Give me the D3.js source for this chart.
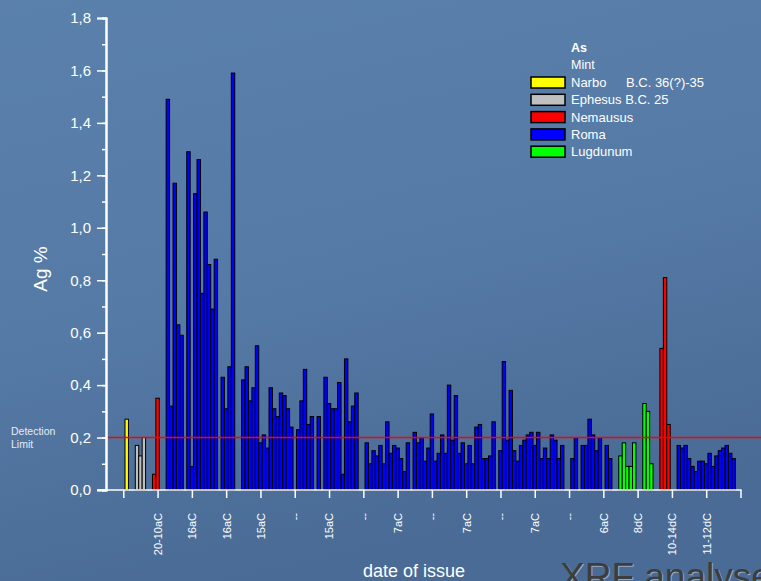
<!DOCTYPE html>
<html>
<head>
<meta charset="utf-8">
<script src="https://cdn.jsdelivr.net/npm/d3@7/dist/d3.min.js"></script>
<style>
html,body{margin:0;padding:0;background:#5278a3;}
svg{display:block;font-family:"Liberation Sans",Arial,sans-serif;}
</style>
</head>
<body>
<svg id="chart" width="761" height="581"></svg>
<script>
// ---- data ----
const xTickValues = [0,10,20,30,40,50,60,70,80,90,100,110,120,130,140,150,160,170,180];
const xTickLabels = ["","20-10aC","16aC","16aC","15aC","--","15aC","--","7aC","--","7aC","--","7aC","--","6aC","8dC","10-14dC","11-12dC",""];
const yTickValues = [0,0.2,0.4,0.6,0.8,1.0,1.2,1.4,1.6,1.8];

const narboPos = [1];
const narboVals = [0.27];
const ephesusPos = [4,5,6];
const ephesusVals = [0.17,0.13,0.20];
const nemaususPos = [9,10,157,158,159];
const nemaususVals = [0.06,0.35,0.54,0.81,0.25];
const romaPos = [13,14,15,16,17,19,20,21,22,23,24,25,26,27,29,30,31,32,
  35,36,37,38,39,40,41,42,43,44,45,46,47,48,49,51,52,53,54,55,57,
  59,60,61,62,63,64,65,66,67,68,
  71,72,73,74,75,76,77,78,79,80,81,82,83,
  85,86,87,88,89,90,91,92,93,94,95,96,97,98,99,100,101,102,103,104,105,106,107,108,
  110,111,112,113,114,115,116,117,118,119,120,121,122,123,124,125,126,127,128,
  131,132,134,135,136,137,138,139,141,142,
  162,163,164,165,166,167,168,169,170,171,172,173,174,175,176,177,178];
const romaVals = [1.49,0.32,1.17,0.63,0.59,1.29,0.09,1.13,1.26,0.75,1.06,0.86,0.69,0.88,0.43,0.31,0.47,1.59,
  0.42,0.47,0.34,0.39,0.55,0.18,0.21,0.16,0.39,0.31,0.28,0.37,0.36,0.31,0.24,0.23,0.34,0.46,0.25,0.28,0.28,
  0.43,0.33,0.31,0.31,0.41,0.06,0.50,0.26,0.32,0.37,
  0.18,0.10,0.15,0.13,0.17,0.10,0.26,0.14,0.17,0.16,0.12,0.07,0.18,
  0.22,0.18,0.20,0.11,0.16,0.29,0.11,0.14,0.21,0.14,0.40,0.19,0.36,0.14,0.18,0.10,0.17,0.10,0.24,0.25,0.12,0.12,0.13,0.26,
  0.15,0.49,0.19,0.38,0.15,0.11,0.17,0.19,0.21,0.22,0.17,0.22,0.12,0.16,0.12,0.21,0.19,0.12,0.17,
  0.12,0.20,0.17,0.17,0.27,0.21,0.15,0.20,0.17,0.12,
  0.17,0.16,0.17,0.12,0.09,0.07,0.11,0.11,0.10,0.14,0.09,0.13,0.15,0.16,0.17,0.14,0.12];
const lugdunumPos = [145,146,147,148,149,152,153,154];
const lugdunumVals = [0.13,0.18,0.09,0.09,0.18,0.33,0.30,0.10];

const seriesNames = ["Narbo","Ephesus","Nemausus","Roma","Lugdunum"];
const seriesLabels = ["Narbo","Ephesus B.C. 25","Nemausus","Roma","Lugdunum"];
const seriesColors = ["#ffff00","#c0c0c0","#ff0000","#0000ff","#00ff00"];
const detectionLimit = 0.2;

// ---- build ----
const svg = d3.select("#chart");
const W = 761, H = 581;

const defs = svg.append("defs");
const grad = defs.append("linearGradient").attr("id","bg").attr("x1",0).attr("y1",0).attr("x2",0.3).attr("y2",1);
grad.append("stop").attr("offset","0%").attr("stop-color","#5a80ac");
grad.append("stop").attr("offset","55%").attr("stop-color","#557aa5");
grad.append("stop").attr("offset","100%").attr("stop-color","#496b95");
svg.append("rect").attr("width",W).attr("height",H).attr("fill","url(#bg)");

const x = d3.scaleLinear().domain([0,180]).range([123.3,740.5]);
const y = d3.scaleLinear().domain([0,1.8]).range([490,18]);
const bw = x(1)-x(0);
const axisX = 106;

const series = [
  {pos:narboPos, vals:narboVals},
  {pos:ephesusPos, vals:ephesusVals},
  {pos:nemaususPos, vals:nemaususVals},
  {pos:romaPos, vals:romaVals},
  {pos:lugdunumPos, vals:lugdunumVals}
];
const bars = [];
series.forEach((s,i)=>s.pos.forEach((p,j)=>bars.push({k:p,v:s.vals[j],c:seriesColors[i]})));

svg.append("g").selectAll("rect").data(bars).join("rect")
  .attr("x",d=>x(d.k)-bw/2)
  .attr("y",d=>y(d.v))
  .attr("width",bw)
  .attr("height",d=>y(0)-y(d.v))
  .attr("fill",d=>d.c)
  .attr("stroke","#000")
  .attr("stroke-width",1);

// detection line
svg.append("line")
  .attr("x1",axisX).attr("x2",W)
  .attr("y1",y(detectionLimit)).attr("y2",y(detectionLimit))
  .attr("stroke","#ff0000").attr("stroke-width",1.6);

// y axis
const yAxisG = svg.append("g").attr("transform",`translate(${axisX},0)`);
yAxisG.call(d3.axisLeft(y).tickValues(d3.range(0,1.81,0.1)).tickSize(4).tickFormat(""));
yAxisG.append("g").call(d3.axisLeft(y).tickValues(yTickValues).tickSize(9).tickPadding(6)
  .tickFormat(d=>d3.format(".1f")(d).replace(".",",")));
yAxisG.selectAll("path.domain").attr("stroke","#fff").attr("stroke-width",2);
yAxisG.selectAll("line").attr("stroke","#fff").attr("stroke-width",1.5);
yAxisG.selectAll("text").attr("fill","#fff").style("font-size","15px");

// x axis
const xAxisG = svg.append("g").attr("transform",`translate(0,${y(0)})`);
xAxisG.call(d3.axisBottom(x).tickValues(xTickValues).tickSize(8)
  .tickFormat((d,i)=>xTickLabels[i]));
xAxisG.select("path.domain").remove();
xAxisG.append("line").attr("x1",axisX-9).attr("x2",x(180)+1).attr("y1",0).attr("y2",0)
  .attr("stroke","#fff").attr("stroke-width",2);
xAxisG.selectAll("line").attr("stroke","#fff").attr("stroke-width",1.5);
xAxisG.selectAll(".tick text")
  .attr("fill","#fff").style("font-size","11px")
  .attr("transform","rotate(-90)")
  .attr("text-anchor","end")
  .attr("x",-23).attr("y",0).attr("dy","0.35em");

// axis titles
svg.append("text").attr("transform","translate(47,269) rotate(-90)")
  .attr("text-anchor","middle").attr("fill","#fff").style("font-size","19px").text("Ag %");
svg.append("text").attr("x",414).attr("y",577).attr("text-anchor","middle")
  .attr("fill","#fff").style("font-size","18px").text("date of issue");

// detection label
svg.append("text").attr("x",11).attr("y",435).attr("fill","#e4ecf4").style("font-size","10.5px").text("Detection");
svg.append("text").attr("x",11).attr("y",448).attr("fill","#e4ecf4").style("font-size","10.5px").text("Limit");

// legend
const lg = svg.append("g").attr("transform","translate(531,0)");
lg.append("text").attr("x",40).attr("y",52).attr("fill","#fff").style("font-size","12.5px").style("font-weight","bold").text("As");
lg.append("text").attr("x",40).attr("y",69).attr("fill","#fff").style("font-size","12.5px").text("Mint");
seriesLabels.forEach((lab,i)=>{
  const yy = 77 + i*17.3;
  lg.append("rect").attr("x",0).attr("y",yy).attr("width",34).attr("height",11)
    .attr("fill",seriesColors[i]).attr("stroke","#000").attr("stroke-width",1.5);
  lg.append("text").attr("x",40).attr("y",yy+10).attr("fill","#fff").style("font-size","13px").text(lab);
});
lg.append("text").attr("x",95).attr("y",87).attr("fill","#fff").style("font-size","13px").text("B.C. 36(?)-35");

// corner title (cut off by the slide edge, as in the original)
svg.append("text").attr("x",561).attr("y",590).attr("fill","#dfe6ee").attr("opacity",0.5)
  .style("font-size","37px").text("XRF analyse");
svg.append("text").attr("x",560).attr("y",589).attr("fill","#3d3d3d")
  .style("font-size","37px").text("XRF analyse");
</script>
</body>
</html>
